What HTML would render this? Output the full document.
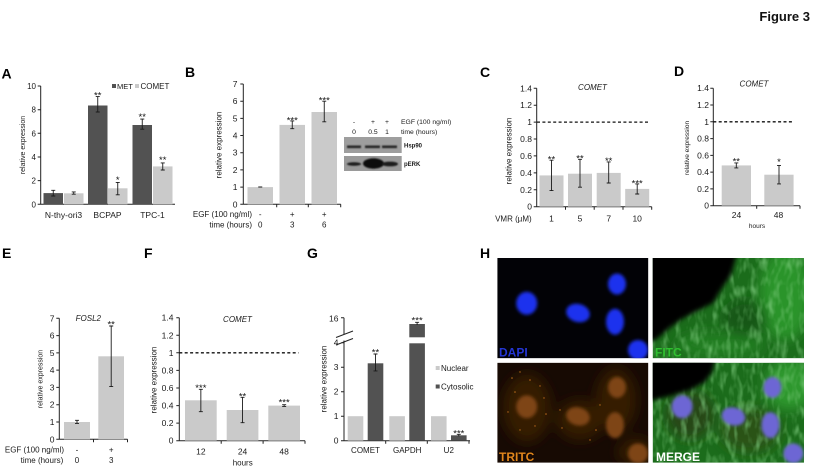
<!DOCTYPE html>
<html><head><meta charset="utf-8">
<style>
html,body{margin:0;padding:0;background:#fff;}
svg{display:block;}
text{font-family:"Liberation Sans",Arial,sans-serif;fill:#1a1a1a;}
.pl{font-size:14px;font-weight:bold;fill:#000;}
.tk{font-size:8.5px;text-anchor:end;}
.a8{font-size:8px;}
.t8{font-size:8px;}
.c{text-anchor:middle;}
.e{text-anchor:end;}
.s{font-size:9.5px;text-anchor:middle;fill:#111;}
.it{font-style:italic;}
.ax{stroke:#222;stroke-width:1;fill:none;}
.eb{stroke:#1a1a1a;stroke-width:0.9;fill:none;}
.lt{fill:#cacaca;}
.dk{fill:#525252;}
.dash{stroke:#111;stroke-width:1.3;stroke-dasharray:3 2.4;fill:none;}
.hl{font-size:12px;font-weight:bold;}
</style></head><body>
<svg width="814" height="472" viewBox="0 0 814 472" xmlns="http://www.w3.org/2000/svg">
<defs>
<filter id="b1"><feGaussianBlur stdDeviation="1.6"/></filter>
<filter id="b2"><feGaussianBlur stdDeviation="2.5"/></filter>
<filter id="b6"><feGaussianBlur stdDeviation="6"/></filter>
<filter id="bb"><feGaussianBlur stdDeviation="0.8"/></filter>
<filter id="tex" x="0" y="0" width="1" height="1">
<feTurbulence type="fractalNoise" baseFrequency="0.16 0.07" numOctaves="2" seed="4"/>
<feColorMatrix type="matrix" values="0 0 0 0 0.22  0 0 0 0 0.62  0 0 0 0 0.22  1.6 0 0 0 -0.72"/>
</filter>
<clipPath id="cD"><rect x="497.3" y="258" width="151" height="100.3"/></clipPath>
<clipPath id="cF"><rect x="652.7" y="258" width="151.3" height="100.3"/></clipPath>
<clipPath id="cT"><rect x="497.3" y="362.7" width="151" height="100"/></clipPath>
<clipPath id="cM"><rect x="652.7" y="362.7" width="151.3" height="100"/></clipPath>
</defs>

<text x="810" y="21" class="e" style="font-size:13px;font-weight:bold;fill:#111;">Figure 3</text>

<!-- ===== A ===== -->
<text class="pl" x="1.5" y="78.5">A</text>
<path class="ax" d="M40.7 86V204.3H175M37.7 86H40.7M37.7 109.7H40.7M37.7 133.3H40.7M37.7 157H40.7M37.7 180.6H40.7M37.7 204.3H40.7"/>
<g class="tk a8">
<text x="36" y="89">10</text><text x="36" y="112.7">8</text><text x="36" y="136.3">6</text>
<text x="36" y="160">4</text><text x="36" y="183.6">2</text><text x="36" y="207.3">0</text>
</g>
<rect class="dk" x="43.5" y="193.1" width="19.5" height="11.2"/>
<rect class="dk" x="88" y="105.5" width="19.5" height="98.8"/>
<rect class="dk" x="132.5" y="125" width="19.5" height="79.3"/>
<rect class="lt" x="64" y="193.3" width="19.5" height="11"/>
<rect class="lt" x="108" y="188.3" width="19.5" height="16"/>
<rect class="lt" x="153" y="166.4" width="19.5" height="37.9"/>
<path class="eb" d="M53.25 196V190.3M51.25 196H55.25M51.25 190.3H55.25
M73.75 194.2V191.9M71.75 194.2H75.75M71.75 191.9H75.75
M97.75 112V96.6M95.75 112H99.75M95.75 96.6H99.75
M117.75 194.8V182.4M115.75 194.8H119.75M115.75 182.4H119.75
M142.25 129.2V119.1M140.25 129.2H144.25M140.25 119.1H144.25
M162.75 170V162.9M160.75 170H164.75M160.75 162.9H164.75"/>
<text class="s" x="97.75" y="98.3">**</text>
<text class="s" x="117.75" y="183">*</text>
<text class="s" x="142.25" y="120">**</text>
<text class="s" x="162.75" y="163">**</text>
<rect class="dk" x="112" y="84" width="4" height="4"/>
<text x="117" y="89" style="font-size:7.5px">MET</text>
<rect class="lt" x="135" y="84" width="4" height="4"/>
<text x="140.5" y="89" class="t8">COMET</text>
<g class="c" style="font-size:8.5px">
<text x="63.5" y="218">N-thy-ori3</text><text x="107.5" y="218">BCPAP</text><text x="152.5" y="218">TPC-1</text>
</g>
<text class="c" transform="translate(25,145) rotate(-90)" style="font-size:7px">relative expression</text>

<!-- ===== B ===== -->
<text class="pl" x="185" y="77">B</text>
<path class="ax" d="M243.3 84V204.3H340.7M276.7 204.3v3M308.3 204.3v3M340.7 204.3v3
M240.3 84H243.3M240.3 101.2H243.3M240.3 118.35H243.3M240.3 135.5H243.3M240.3 152.7H243.3M240.3 169.9H243.3M240.3 187.1H243.3M240.3 204.3H243.3"/>
<g class="tk">
<text x="237.5" y="87">7</text><text x="237.5" y="104.2">6</text><text x="237.5" y="121.35">5</text>
<text x="237.5" y="138.5">4</text><text x="237.5" y="155.7">3</text><text x="237.5" y="172.9">2</text>
<text x="237.5" y="190.1">1</text><text x="237.5" y="207.3">0</text>
</g>
<rect class="lt" x="247.5" y="187.1" width="25.5" height="17.2"/>
<rect class="lt" x="279.5" y="124.9" width="25.5" height="79.4"/>
<rect class="lt" x="311.5" y="112" width="25.5" height="92.3"/>
<path class="eb" d="M258.25 187H262.25
M292.25 128.7V120.9M290.25 128.7H294.25M290.25 120.9H294.25
M324.25 121.8V101.2M322.25 121.8H326.25M322.25 101.2H326.25"/>
<text class="s" x="292.25" y="123.3">***</text>
<text class="s" x="324.25" y="103.3">***</text>
<g class="t8">
<text class="e" x="252" y="217">EGF (100 ng/ml)</text>
<text class="c" x="260.25" y="217">-</text><text class="c" x="292.25" y="217">+</text><text class="c" x="324.25" y="217">+</text>
<text class="e" x="252" y="227.5">time (hours)</text>
<text class="c" x="260.25" y="227.5">0</text><text class="c" x="292.25" y="227.5">3</text><text class="c" x="324.25" y="227.5">6</text>
</g>
<text class="c t8" transform="translate(221.5,145) rotate(-90)">relative expression</text>

<!-- Western blot -->
<g style="font-size:6.8px">
<text class="c" x="354" y="124">-</text><text class="c" x="373" y="124">+</text><text class="c" x="387" y="124">+</text>
<text class="c" x="354" y="134">0</text><text class="c" x="373" y="134">0.5</text><text class="c" x="387" y="134">1</text>
<text x="401" y="124">EGF (100 ng/ml)</text>
<text x="401" y="134">time (hours)</text>
</g>
<rect x="344" y="137" width="57.7" height="16" fill="#9e9e9e"/>
<rect x="344" y="156" width="57.7" height="15" fill="#9a9a9a"/>
<g filter="url(#bb)">
<rect x="347" y="145.5" width="14" height="2.6" fill="#262626"/>
<rect x="365" y="145.5" width="15" height="2.6" fill="#262626"/>
<rect x="382" y="145.5" width="15" height="2.6" fill="#262626"/>
<ellipse cx="354" cy="164" rx="7" ry="1.8" fill="#1a1a1a"/>
<ellipse cx="373.5" cy="163.5" rx="10.5" ry="5.2" fill="#111"/>
<ellipse cx="390" cy="164" rx="8" ry="2.4" fill="#1a1a1a"/>
</g>
<text x="404" y="147.5" style="font-size:6px;font-weight:bold">Hsp90</text>
<text x="404" y="166" style="font-size:6px;font-weight:bold">pERK</text>

<!-- ===== C ===== -->
<text class="pl" x="480" y="77">C</text>
<path class="ax" d="M536.7 88.3V206.7H651.7M565.5 206.7v3M594.2 206.7v3M623 206.7v3M651.7 206.7v3
M533.7 88.3H536.7M533.7 105.2H536.7M533.7 122.1H536.7M533.7 139H536.7M533.7 155.9H536.7M533.7 172.9H536.7M533.7 189.8H536.7M533.7 206.7H536.7"/>
<g class="tk">
<text x="532" y="91.3">1.4</text><text x="532" y="108.2">1.2</text><text x="532" y="125.1">1</text>
<text x="532" y="142">0.8</text><text x="532" y="158.9">0.6</text><text x="532" y="175.9">0.4</text>
<text x="532" y="192.8">0.2</text><text x="532" y="209.7">0</text>
</g>
<path class="dash" d="M537 122.1H650"/>
<rect class="lt" x="539.5" y="175.4" width="24" height="31.3"/>
<rect class="lt" x="568" y="173.7" width="24" height="33"/>
<rect class="lt" x="596.7" y="172.9" width="24" height="33.8"/>
<rect class="lt" x="625.2" y="188.9" width="24" height="17.8"/>
<path class="eb" d="M551.5 190.6V160.2M549.5 190.6H553.5M549.5 160.2H553.5
M580 187.2V159.3M578 187.2H582M578 159.3H582
M608.7 183V161.9M606.7 183H610.7M606.7 161.9H610.7
M637.2 194V183.9M635.2 194H639.2M635.2 183.9H639.2"/>
<text class="s" x="551.5" y="162.3">**</text>
<text class="s" x="580" y="161.7">**</text>
<text class="s" x="608.7" y="164">**</text>
<text class="s" x="637.2" y="186.7">***</text>
<text class="c t8 it" x="592.5" y="90">COMET</text>
<g style="font-size:8.5px">
<text class="c" x="551.5" y="221.3">1</text><text class="c" x="580" y="221.3">5</text>
<text class="c" x="608.7" y="221.3">7</text><text class="c" x="637.2" y="221.3">10</text>
<text class="e" x="531.7" y="221.3" style="font-size:8px">VMR (µM)</text>
</g>
<text class="c t8" transform="translate(511.5,151) rotate(-90)">relative expression</text>

<!-- ===== D ===== -->
<text class="pl" x="674" y="76">D</text>
<path class="ax" d="M713.3 88.2V205.7H800M756.7 205.7v3M800 205.7v3
M710.3 88.2H713.3M710.3 105H713.3M710.3 121.8H713.3M710.3 138.6H713.3M710.3 155.4H713.3M710.3 172.1H713.3M710.3 188.9H713.3M710.3 205.7H713.3"/>
<g class="tk">
<text x="709" y="91.2">1.4</text><text x="709" y="108">1.2</text><text x="709" y="124.8">1</text>
<text x="709" y="141.6">0.8</text><text x="709" y="158.4">0.6</text><text x="709" y="175.1">0.4</text>
<text x="709" y="191.9">0.2</text><text x="709" y="208.7">0</text>
</g>
<path class="dash" d="M713.3 121.8H792"/>
<rect class="lt" x="721.7" y="165.4" width="29.3" height="40.3"/>
<rect class="lt" x="764.3" y="174.7" width="29.3" height="31"/>
<path class="eb" d="M736.3 167.9V162.9M734.3 167.9H738.3M734.3 162.9H738.3
M779 183.9V165.4M777 183.9H781M777 165.4H781"/>
<text class="s" x="736.3" y="164.3">**</text>
<text class="s" x="779" y="165">*</text>
<text class="c t8 it" x="754" y="86.7">COMET</text>
<text class="c" x="736.5" y="218" style="font-size:8.5px">24</text>
<text class="c" x="778.5" y="218" style="font-size:8.5px">48</text>
<text class="c" x="757" y="228" style="font-size:6.5px">hours</text>
<text class="c" transform="translate(689,148) rotate(-90)" style="font-size:6.5px">relative expression</text>

<!-- ===== E ===== -->
<text class="pl" x="2" y="258">E</text>
<path class="ax" d="M59.3 318.3V439.3H127.5M93.5 439.3v3M127.5 439.3v3
M56.3 318.3H59.3M56.3 335.6H59.3M56.3 352.85H59.3M56.3 370.1H59.3M56.3 387.4H59.3M56.3 404.7H59.3M56.3 422H59.3M56.3 439.3H59.3"/>
<g class="tk">
<text x="54.5" y="321.3">7</text><text x="54.5" y="338.6">6</text><text x="54.5" y="355.85">5</text>
<text x="54.5" y="373.1">4</text><text x="54.5" y="390.4">3</text><text x="54.5" y="407.7">2</text>
<text x="54.5" y="425">1</text><text x="54.5" y="442.3">0</text>
</g>
<rect class="lt" x="64" y="422" width="26" height="17.3"/>
<rect class="lt" x="98.3" y="356.3" width="25.7" height="83"/>
<path class="eb" d="M77 423.4V420.3M75 423.4H79M75 420.3H79
M111.2 386.6V326M109.2 386.6H113.2M109.2 326H113.2"/>
<text class="s" x="111.2" y="327.5">**</text>
<text class="c t8 it" x="88.3" y="321">FOSL2</text>
<g class="t8">
<text class="e" x="64" y="452.3">EGF (100 ng/ml)</text>
<text class="c" x="77" y="452.3">-</text><text class="c" x="111.2" y="452.3">+</text>
<text class="e" x="63.3" y="463">time (hours)</text>
<text class="c" x="77" y="463">0</text><text class="c" x="111.2" y="463">3</text>
</g>
<text class="c" transform="translate(42.5,379) rotate(-90)" style="font-size:7px">relative expression</text>

<!-- ===== F ===== -->
<text class="pl" x="144" y="258">F</text>
<path class="ax" d="M179.3 317.7V440.7H305M221.2 440.7v3M263.1 440.7v3M305 440.7v3
M176.3 317.7H179.3M176.3 335.3H179.3M176.3 352.8H179.3M176.3 370.4H179.3M176.3 388H179.3M176.3 405.6H179.3M176.3 423.1H179.3M176.3 440.7H179.3"/>
<g class="tk">
<text x="173.5" y="320.7">1.4</text><text x="173.5" y="338.3">1.2</text><text x="173.5" y="355.8">1</text>
<text x="173.5" y="373.4">0.8</text><text x="173.5" y="391">0.6</text><text x="173.5" y="408.6">0.4</text>
<text x="173.5" y="426.1">0.2</text><text x="173.5" y="443.7">0</text>
</g>
<path class="dash" d="M179.3 352.8H298.5"/>
<rect class="lt" x="185" y="400.3" width="31.7" height="40.4"/>
<rect class="lt" x="226.7" y="410" width="31.7" height="30.7"/>
<rect class="lt" x="268.3" y="405.6" width="31.7" height="35.1"/>
<path class="eb" d="M200.85 411.7V389.3M198.85 411.7H202.85M198.85 389.3H202.85
M242.55 422.7V397.3M240.55 422.7H244.55M240.55 397.3H244.55
M284.15 406.4V404.7M282.15 406.4H286.15M282.15 404.7H286.15"/>
<text class="s" x="200.85" y="391">***</text>
<text class="s" x="242.55" y="399.3">**</text>
<text class="s" x="284.15" y="405.7">***</text>
<text class="c t8 it" x="237.5" y="322">COMET</text>
<g style="font-size:8.5px">
<text class="c" x="200.85" y="454.5">12</text><text class="c" x="242.55" y="454.5">24</text><text class="c" x="284.15" y="454.5">48</text>
</g>
<text class="c t8" x="242.7" y="465.5">hours</text>
<text class="c t8" transform="translate(156.3,380) rotate(-90)">relative expression</text>

<!-- ===== G ===== -->
<text class="pl" x="307" y="258">G</text>
<path class="ax" d="M344 317.7V334M344 340.5V440.7H470M385.7 440.7v3M427.3 440.7v3M469 440.7v3
M341 317.7H344M341 342.7H344M341 367.2H344M341 391.7H344M341 416.2H344M341 440.7H344
M336 337.5L353 331M336 345L353 338.5"/>
<g class="tk">
<text x="338.5" y="321.3">16</text><text x="338.5" y="345.7">4</text><text x="338.5" y="370.2">3</text>
<text x="338.5" y="394.7">2</text><text x="338.5" y="419.2">1</text><text x="338.5" y="443.7">0</text>
</g>
<rect class="lt" x="347.7" y="416.2" width="15.6" height="24.5"/>
<rect class="lt" x="389.3" y="416.2" width="15.6" height="24.5"/>
<rect class="lt" x="431" y="416.2" width="15.6" height="24.5"/>
<rect class="dk" x="367.7" y="363.3" width="15.6" height="77.4"/>
<rect class="dk" x="409.3" y="343.3" width="15.6" height="97.4"/>
<rect class="dk" x="409.3" y="324" width="15.6" height="13.3"/>
<rect class="dk" x="451" y="435.3" width="15.6" height="5.4"/>
<path class="eb" d="M375.5 370.9V354M373.5 370.9H377.5M373.5 354H377.5
M417.1 325V322.3M415.1 322.3H419.1
M458.8 436.3V434.3M456.8 434.3H460.8"/>
<text class="s" x="375.5" y="355.7">**</text>
<text class="s" x="417.1" y="323.3">***</text>
<text class="s" x="458.8" y="436.7">***</text>
<rect class="lt" x="435.7" y="366" width="4" height="4"/>
<text x="441" y="371" class="t8">Nuclear</text>
<rect class="dk" x="435.7" y="384.5" width="4" height="4"/>
<text x="441" y="389.5" class="t8">Cytosolic</text>
<g class="c t8">
<text x="365.5" y="453">COMET</text><text x="407.2" y="453">GAPDH</text><text x="448.8" y="453">U2</text>
</g>
<text class="c t8" transform="translate(326.5,379) rotate(-90)">relative expression</text>

<!-- ===== H ===== -->
<text class="pl" x="480" y="258">H</text>
<!-- DAPI -->
<g clip-path="url(#cD)">
<rect x="497.3" y="258" width="151" height="100.3" fill="#020206"/>
<g filter="url(#b1)" fill="#1f33ee">
<ellipse cx="526.7" cy="303.3" rx="10.5" ry="11.5"/>
<ellipse cx="578" cy="313" rx="12" ry="9" transform="rotate(15 578 313)"/>
<ellipse cx="617" cy="284" rx="9" ry="10.5"/>
<ellipse cx="615" cy="321.7" rx="9" ry="13"/>
<ellipse cx="638" cy="350" rx="10" ry="10"/>
</g>
<text x="499" y="356.5" class="hl" style="fill:#2436d4">DAPI</text>
</g>
<!-- FITC -->
<g clip-path="url(#cF)">
<rect x="652.7" y="258" width="151.3" height="100.3" fill="#1b6c1b"/>
<g filter="url(#b6)">
<ellipse cx="785" cy="295" rx="26" ry="45" fill="#2c942c"/>
<ellipse cx="720" cy="345" rx="45" ry="12" fill="#237f23"/>
<ellipse cx="745" cy="318" rx="22" ry="18" fill="#175717"/>
</g>
<rect x="652.7" y="258" width="151.3" height="100.3" filter="url(#tex)"/>
<path d="M645 250H738L731 275L722 288L713 303L695 312L680 320L667 330L658 338L645 346Z" fill="#000" filter="url(#b2)"/>
<text x="655" y="356.5" class="hl" style="fill:#2fc02f">FITC</text>
</g>
<!-- TRITC -->
<g clip-path="url(#cT)">
<rect x="497.3" y="362.7" width="151" height="100" fill="#170a03"/>
<g filter="url(#b6)" fill="#341a06">
<ellipse cx="527" cy="408" rx="24" ry="34"/>
<ellipse cx="580" cy="420" rx="24" ry="20"/>
<ellipse cx="616" cy="400" rx="20" ry="32"/>
<ellipse cx="636" cy="452" rx="18" ry="14"/>
</g>
<g filter="url(#b1)" fill="#7e4412">
<ellipse cx="526.7" cy="406.7" rx="10.5" ry="11.5"/>
<ellipse cx="578" cy="416.4" rx="12" ry="9" transform="rotate(15 578 416.4)"/>
<ellipse cx="617" cy="387.4" rx="9" ry="10.5"/>
<ellipse cx="615" cy="425.1" rx="9" ry="13"/>
<ellipse cx="638" cy="453.4" rx="10" ry="10"/>
</g>
<g fill="#b86a1c">
<circle cx="512" cy="378" r="0.8"/><circle cx="520" cy="372" r="0.7"/><circle cx="530" cy="380" r="0.8"/>
<circle cx="540" cy="386" r="0.7"/><circle cx="515" cy="392" r="0.8"/><circle cx="544" cy="398" r="0.7"/>
<circle cx="508" cy="412" r="0.7"/><circle cx="546" cy="414" r="0.8"/><circle cx="535" cy="426" r="0.7"/>
<circle cx="520" cy="430" r="0.7"/><circle cx="560" cy="410" r="0.7"/><circle cx="596" cy="430" r="0.8"/>
<circle cx="600" cy="405" r="0.7"/><circle cx="590" cy="440" r="0.7"/><circle cx="562" cy="428" r="0.7"/>
</g>
<text x="499" y="461" class="hl" style="fill:#e0861c">TRITC</text>
</g>
<!-- MERGE -->
<g clip-path="url(#cM)">
<rect x="652.7" y="362.7" width="151.3" height="100" fill="#1b6c1b"/>
<g filter="url(#b6)">
<ellipse cx="790" cy="385" rx="25" ry="25" fill="#2e982e"/>
<ellipse cx="690" cy="415" rx="24" ry="24" fill="#284614"/>
<ellipse cx="750" cy="430" rx="30" ry="22" fill="#2a5216"/>
</g>
<rect x="652.7" y="362.7" width="151.3" height="100" filter="url(#tex)"/>
<path d="M645 355H716L712 372L705 382L690 390L670 396L645 402Z" fill="#000" filter="url(#b2)"/>
<g filter="url(#b1)" fill="#6d66d4">
<ellipse cx="682.1" cy="406.7" rx="10.5" ry="11.5"/>
<ellipse cx="733.4" cy="416.4" rx="12" ry="9" transform="rotate(15 733.4 416.4)"/>
<ellipse cx="772.4" cy="387.4" rx="9" ry="10.5"/>
<ellipse cx="770.4" cy="425.1" rx="9" ry="13"/>
<ellipse cx="793.4" cy="453.4" rx="10" ry="10"/>
</g>
<text x="656" y="461" class="hl" style="fill:#ffffff">MERGE</text>
</g>
</svg>
</body></html>
